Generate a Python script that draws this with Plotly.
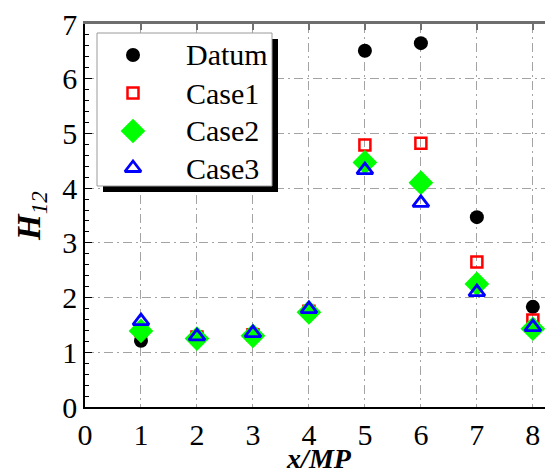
import plotly.graph_objects as go

x_pos = [1, 2, 3, 4, 5, 6, 7, 8]
datum = [1.21, 1.27, 1.31, 1.75, 6.51, 6.65, 3.47, 1.83]
case1 = [1.40, 1.28, 1.32, 1.75, 4.79, 4.82, 2.65, 1.59]
case2 = [1.39, 1.25, 1.30, 1.73, 4.47, 4.10, 2.25, 1.43]
case3 = [1.57, 1.29, 1.35, 1.79, 4.33, 3.73, 2.10, 1.46]
series_names = ["Datum", "Case1", "Case2", "Case3"]

x_ticks = [0, 1, 2, 3, 4, 5, 6, 7, 8]
y_ticks = [0, 1, 2, 3, 4, 5, 6, 7]
X_RANGE = [0, 8.36]
Y_RANGE = [0, 7]

FONT = "Liberation Serif, Times New Roman, serif"
# page has an 8px body margin: figure occupies window pixels 8..553 / 8..474
OFF = 8
W, H = 553 - OFF, 474 - OFF
ML, MR, MT, MB = 85 - OFF, 0, 24 - OFF, 474 - 407
PW, PH = W - ML - MR, H - MT - MB

styles = [
    dict(symbol="circle", size=14, color="black"),
    dict(symbol="square-open", size=11, color="red", line=dict(width=2.5, color="red")),
    dict(symbol="diamond", size=19, color="#00ff00", line=dict(width=0)),
    dict(symbol="triangle-up-open", size=14, color="blue", line=dict(width=2.8, color="blue")),
]
values = [datum, case1, case2, case3]

fig = go.Figure()
for name, vals, st in zip(series_names, values, styles):
    fig.add_trace(go.Scatter(x=x_pos, y=vals, mode="markers", name=name,
                             marker=st, showlegend=False))

# top axis carrier
fig.add_trace(go.Scatter(x=X_RANGE, y=[0, 0], xaxis="x2", mode="markers",
                         marker=dict(opacity=0), showlegend=False, hoverinfo="skip"))


# window pixel -> data / paper helpers (for the hand-drawn legend only)
def wx_to_data(px):
    return X_RANGE[0] + (px - OFF - ML) / PW * (X_RANGE[1] - X_RANGE[0])


def wy_to_data(py):
    return Y_RANGE[0] + (H - MB - (py - OFF)) / PH * (Y_RANGE[1] - Y_RANGE[0])


def wx_to_paper(px):
    return (px - OFF - ML) / PW


def wy_to_paper(py):
    return (H - MB - (py - OFF)) / PH


# legend box geometry (window pixels)
LB_X0, LB_X1, LB_Y0, LB_Y1 = 97, 272, 33, 186
SH = 6
SYM_X, TXT_X = 133, 184
ROW_Y = [55, 93, 131, 168]

fig.add_shape(type="rect", xref="x", yref="y", layer="between",
              x0=wx_to_data(LB_X0 + SH), x1=wx_to_data(LB_X1 + SH),
              y0=wy_to_data(LB_Y1 + SH), y1=wy_to_data(LB_Y0 + SH),
              fillcolor="black", line=dict(width=0))
fig.add_shape(type="rect", xref="x", yref="y", layer="between",
              x0=wx_to_data(LB_X0), x1=wx_to_data(LB_X1),
              y0=wy_to_data(LB_Y1), y1=wy_to_data(LB_Y0),
              fillcolor="white", line=dict(width=1, color="#9a9a9a"))

# legend symbols on an overlay axis in paper units, texts as annotations
for name, st, ry in zip(series_names, styles, ROW_Y):
    fig.add_trace(go.Scatter(x=[wx_to_paper(SYM_X)], y=[wy_to_paper(ry)],
                             xaxis="x3", yaxis="y3", mode="markers", marker=st,
                             showlegend=False, hoverinfo="skip", cliponaxis=False))
    fig.add_annotation(xref="paper", yref="paper", x=wx_to_paper(TXT_X),
                       y=wy_to_paper(ry), text=name, showarrow=False,
                       xanchor="left", yanchor="middle",
                       font=dict(size=30, family=FONT, color="black"))

grid = dict(showgrid=True, gridcolor="#a3a3a3", gridwidth=1.3, griddash="9px,4px,2px,4px")

fig.update_layout(
    width=W, height=H,
    margin=dict(l=ML, r=MR, t=MT, b=MB, pad=0),
    paper_bgcolor="white", plot_bgcolor="white",
    font=dict(family=FONT, color="black", size=28),
    xaxis=dict(range=X_RANGE, tickvals=x_ticks, ticktext=[str(v) for v in x_ticks],
               showline=True, linecolor="black", linewidth=1.5, automargin=False,
               ticks="", zeroline=False, **grid, ticklabeloverflow="allow",
               tickfont=dict(size=30, family=FONT),
               title=dict(text="<b><i>x/MP</i></b>", font=dict(size=28, family=FONT),
                          standoff=0)),
    xaxis2=dict(overlaying="x", side="top", range=X_RANGE, tickvals=x_ticks[1:],
                showticklabels=False, ticks="inside", ticklen=6, tickcolor="#707070",
                tickwidth=1.5, showline=True, linecolor="#6e6e6e", linewidth=3,
                showgrid=False, zeroline=False, automargin=False),
    yaxis=dict(range=Y_RANGE, tickvals=y_ticks, ticktext=[str(v) for v in y_ticks],
               showline=True, linecolor="black", linewidth=1.5, automargin=False,
               ticks="inside", ticklen=7, tickwidth=1.2, tickcolor="black",
               minor=dict(ticks="inside", dtick=0.2, ticklen=4, tickwidth=1,
                          tickcolor="black", showgrid=False),
               zeroline=False, **grid, ticklabeloverflow="allow",
               tickfont=dict(size=30, family=FONT),
               title=dict(text="<b><i>H</i></b><sub><i>12</i></sub>",
                          font=dict(size=33, family=FONT), standoff=12)),
    xaxis3=dict(overlaying="x", range=[0, 1], visible=False, fixedrange=True),
    yaxis3=dict(overlaying="y", range=[0, 1], visible=False, fixedrange=True),
    showlegend=False,
)

fig.write_html("out.html")
